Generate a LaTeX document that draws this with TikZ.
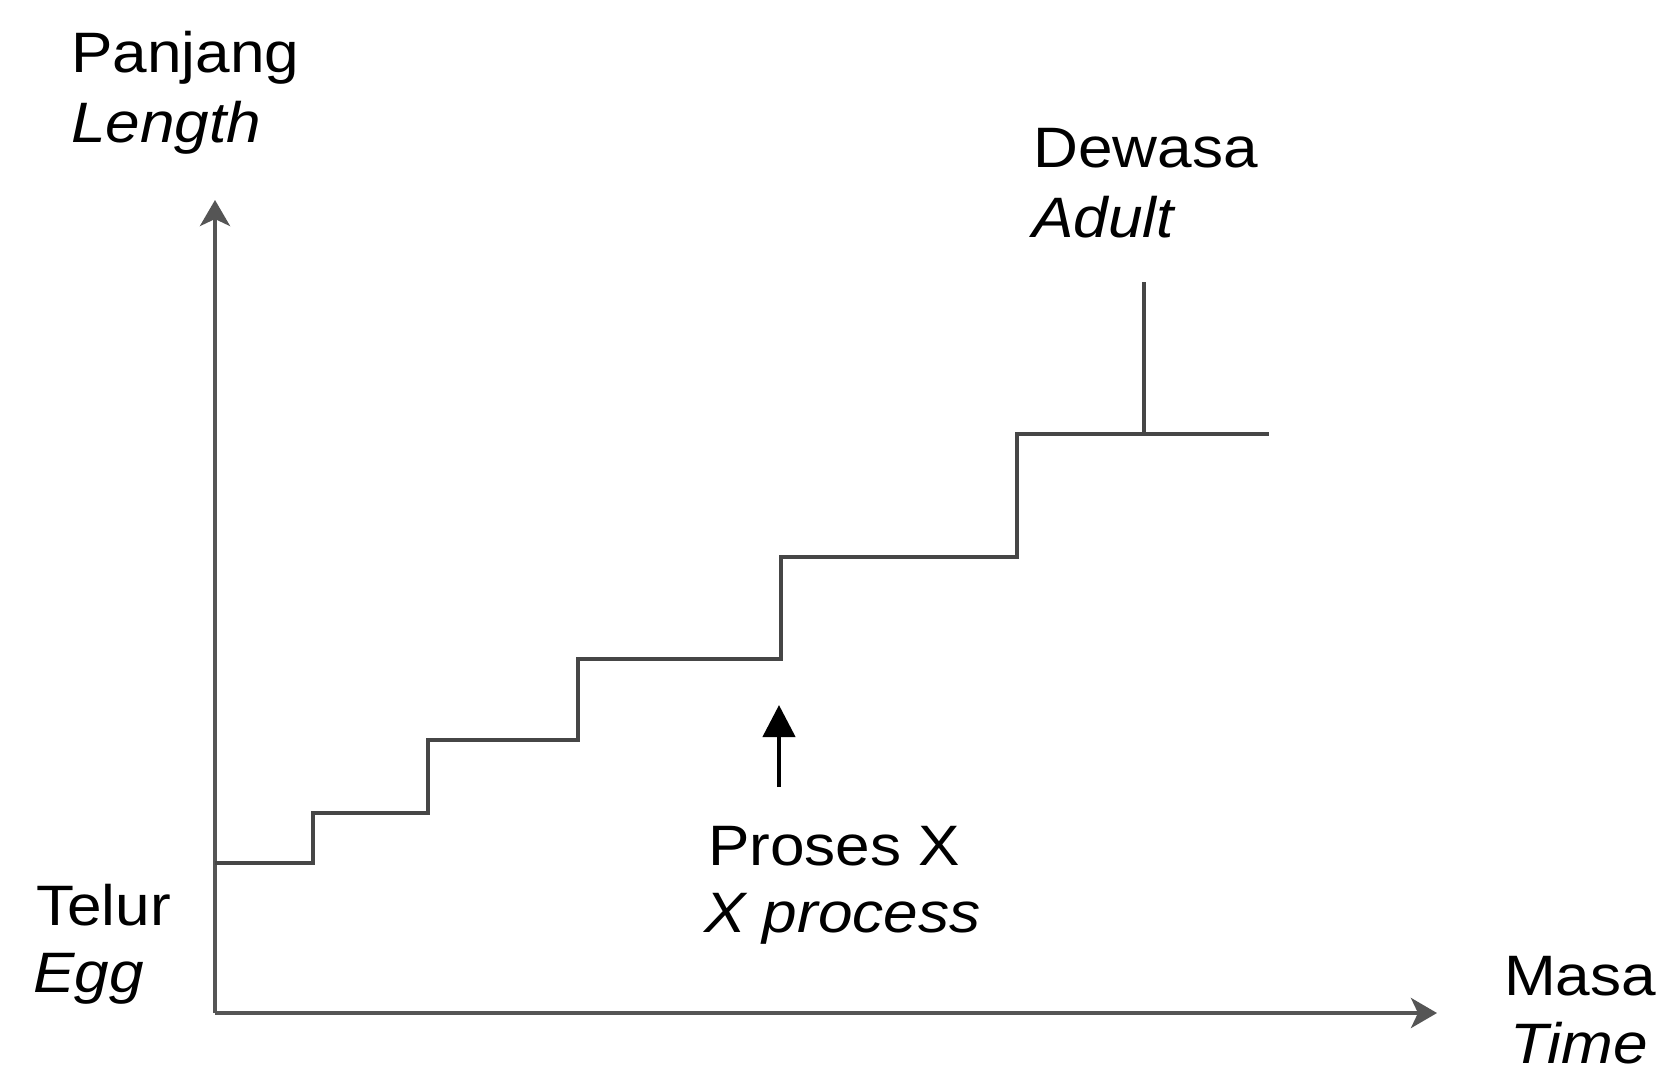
\documentclass[tikz,border=0pt]{standalone}
\usepackage{fontspec}
\setmainfont[FakeStretch=1.09]{Liberation Sans}
\usetikzlibrary{arrows.meta}
\begin{document}
\begin{tikzpicture}[x=1pt,y=-1pt,
  lbl/.style={inner sep=0pt,anchor=base west,font=\fontsize{57}{69}\selectfont},
  ilbl/.style={lbl,font=\fontsize{57}{69}\selectfont\itshape},
  axis/.style={line width=4pt,draw={rgb,255:red,85;green,85;blue,85},-{Stealth[length=26pt,width=30pt,inset=7pt]}},
  stair/.style={line width=4pt,draw={rgb,255:red,70;green,70;blue,70},line join=miter},
  pointer/.style={line width=4.5pt,draw=black,-{Triangle[length=32pt,width=32pt]}}]
\useasboundingbox[fill=white] (0,0) rectangle (1664,1077);
% axes
\coordinate (O) at (215,1013);
\coordinate (ytop) at (215,200);
\coordinate (xend) at (1437,1013);
\draw[axis] (O) -- (ytop);
\draw[axis] (O) -- (xend);
% staircase
\coordinate (s0) at (215,863);
\coordinate (s1) at (313,863);
\coordinate (s2) at (313,813);
\coordinate (s3) at (428,813);
\coordinate (s4) at (428,740);
\coordinate (s5) at (578,740);
\coordinate (s6) at (578,659);
\coordinate (s7) at (781,659);
\coordinate (s8) at (781,557);
\coordinate (s9) at (1017,557);
\coordinate (s10) at (1017,434);
\coordinate (s11) at (1269,434);
\draw[stair] (s0) -- (s1) -- (s2) -- (s3) -- (s4) -- (s5) -- (s6) -- (s7) -- (s8) -- (s9) -- (s10) -- (s11);
% adult marker
\coordinate (ad0) at (1144,434);
\coordinate (ad1) at (1144,282);
\draw[stair] (ad0) -- (ad1);
% labels
\node[lbl]  (panjang) at (71,72)   {Panjang};
\node[ilbl] (length)  at (71,142)  {Length};
\node[lbl]  (dewasa)  at (1033,167) {Dewasa};
\node[ilbl] (adult)   at (1032,237) {Adult};
\node[lbl]  (telur)   at (36,925)  {Telur};
\node[ilbl] (egg)     at (33,992)  {Egg};
\node[lbl]  (masa)    at (1504,995) {Masa};
\node[ilbl] (time)    at (1510,1063) {Time};
\node[lbl]  (proses)  at (708,865)  {Proses X};
\node[ilbl] (xproc)   at (704,932)  {X process};
% process arrow
\coordinate (pa0) at (779,787);
\coordinate (pa1) at (779,705);
\draw[pointer] (pa0) -- (pa1);
\end{tikzpicture}
\end{document}
